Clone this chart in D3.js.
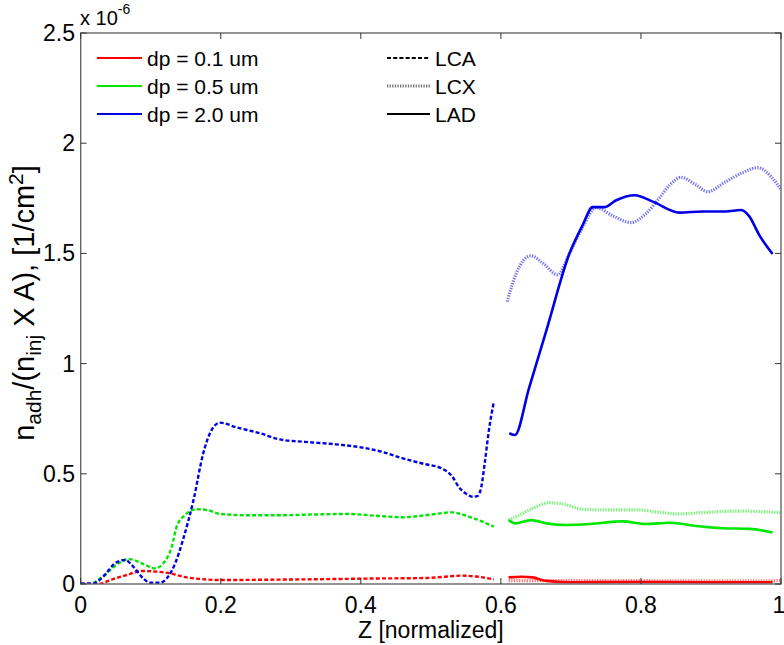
<!DOCTYPE html>
<html><head><meta charset="utf-8">
<script src="https://cdn.jsdelivr.net/npm/d3@7"></script>
<style>body{margin:0;background:#fff}svg{display:block}text{font-family:"Liberation Sans",Arial,sans-serif;fill:#000}</style>
</head><body><svg id="c" width="784" height="645"></svg>
<script>
// values in units of 1e-6 [1/cm^2]
const xTicks = [0, 0.2, 0.4, 0.6, 0.8, 1];
const xTickLabels = ["0", "0.2", "0.4", "0.6", "0.8", "1"];
const yTicks = [0, 0.5, 1, 1.5, 2, 2.5];
const yTickLabels = ["0", "0.5", "1", "1.5", "2", "2.5"];
const sizeLabels = ["dp = 0.1 um", "dp = 0.5 um", "dp = 2.0 um"];
const vesselLabels = ["LCA", "LCX", "LAD"];

const lcaRed = [[0.018,0],[0.03,0.003],[0.042,0.018],[0.066,0.041],[0.087,0.059],[0.108,0.056],[0.127,0.049],[0.146,0.033],[0.17,0.023],[0.199,0.018],[0.284,0.02],[0.35,0.022],[0.42,0.025],[0.49,0.027],[0.52,0.033],[0.545,0.038],[0.565,0.034],[0.59,0.021]];
const lcaGreen = [[0.018,0.003],[0.037,0.048],[0.054,0.094],[0.07,0.113],[0.089,0.091],[0.106,0.071],[0.118,0.094],[0.13,0.169],[0.137,0.26],[0.149,0.313],[0.165,0.339],[0.18,0.336],[0.199,0.318],[0.237,0.312],[0.284,0.312],[0.33,0.315],[0.38,0.318],[0.42,0.31],[0.46,0.303],[0.5,0.315],[0.53,0.325],[0.555,0.305],[0.59,0.26]];
const lcaBlue = [[0,0.003],[0.018,0.003],[0.032,0.033],[0.049,0.094],[0.063,0.109],[0.075,0.079],[0.089,0.026],[0.099,0.006],[0.113,0.006],[0.123,0.026],[0.135,0.094],[0.146,0.2],[0.161,0.38],[0.175,0.593],[0.187,0.699],[0.199,0.732],[0.222,0.711],[0.256,0.684],[0.284,0.656],[0.32,0.645],[0.36,0.635],[0.4,0.62],[0.43,0.6],[0.46,0.57],[0.49,0.545],[0.515,0.525],[0.53,0.49],[0.54,0.44],[0.55,0.41],[0.56,0.396],[0.567,0.4],[0.572,0.44],[0.577,0.55],[0.583,0.7],[0.59,0.827]];

const lcxRed = [[0.611,0.015],[0.7,0.016],[0.8,0.015],[0.9,0.014],[1.0,0.015]];
const lcxGreen = [[0.611,0.29],[0.631,0.32],[0.65,0.35],[0.669,0.369],[0.688,0.363],[0.717,0.339],[0.745,0.336],[0.793,0.336],[0.831,0.324],[0.85,0.318],[0.888,0.324],[0.936,0.331],[1.0,0.324]];
const lcxBlue = [[0.609,1.281],[0.622,1.41],[0.643,1.489],[0.66,1.456],[0.681,1.403],[0.698,1.5],[0.717,1.62],[0.736,1.708],[0.76,1.67],[0.786,1.64],[0.807,1.68],[0.826,1.75],[0.841,1.81],[0.857,1.845],[0.879,1.81],[0.895,1.78],[0.921,1.825],[0.945,1.866],[0.967,1.889],[0.986,1.848],[1.0,1.79]];

const ladRed = [[0.611,0.03],[0.63,0.033],[0.645,0.03],[0.665,0.014],[0.698,0.008],[0.79,0.009],[0.886,0.008],[0.988,0.008]];
const ladGreen = [[0.611,0.29],[0.62,0.275],[0.643,0.29],[0.665,0.275],[0.693,0.268],[0.727,0.272],[0.774,0.284],[0.807,0.272],[0.841,0.278],[0.879,0.263],[0.917,0.253],[0.955,0.25],[0.988,0.234]];
const ladBlue = [[0.612,0.684],[0.62,0.676],[0.64,0.887],[0.665,1.151],[0.698,1.5],[0.717,1.63],[0.731,1.71],[0.748,1.71],[0.764,1.74],[0.791,1.764],[0.817,1.735],[0.855,1.685],[0.888,1.69],[0.921,1.69],[0.943,1.697],[0.955,1.667],[0.969,1.583],[0.988,1.497]];

const colors = ["#ff0000", "#00e600", "#0000e6"];
const L = 80.7, R = 781, T = 33, B = 584;
const svg = d3.select("#c");
const x = d3.scaleLinear().domain([0, 1]).range([L, R]);
const y = d3.scaleLinear().domain([0, 2.5]).range([B, T]);
const FT = 23, FL = 21;

svg.append("defs").append("clipPath").attr("id", "clip")
  .append("rect").attr("x", L).attr("y", T).attr("width", R - L).attr("height", B - T);

const styles = {
  LCX: {dash: "1.3,1.3", width: 3.2, opacity: 0.55},
  LCA: {dash: "4,2.2", width: 2.4, opacity: 1},
  LAD: {dash: null, width: 2.6, opacity: 1}
};
const line = d3.line().x(d => x(d[0])).y(d => y(d[1])).curve(d3.curveMonotoneX);
const g = svg.append("g").attr("clip-path", "url(#clip)");
const groups = [
  ["LCX", [lcxRed, lcxGreen, lcxBlue]],
  ["LCA", [lcaRed, lcaGreen, lcaBlue]],
  ["LAD", [ladRed, ladGreen, ladBlue]]
];
groups.forEach(([name, arr]) => {
  const s = styles[name];
  arr.forEach((data, i) => {
    g.append("path").attr("d", line(data)).attr("fill", "none")
      .attr("stroke", colors[i]).attr("stroke-width", s.width)
      .attr("stroke-opacity", s.opacity)
      .attr("stroke-dasharray", s.dash);
  });
});

// axes box
const ax = svg.append("g");
ax.append("rect").attr("x", L).attr("y", T).attr("width", R - L).attr("height", B - T)
  .attr("fill", "none").attr("stroke", "#666").attr("stroke-width", 1.4);
const tl = 6;
xTicks.forEach((t, i) => {
  ax.append("line").attr("x1", x(t)).attr("x2", x(t)).attr("y1", B).attr("y2", B - tl).attr("stroke", "#333");
  ax.append("line").attr("x1", x(t)).attr("x2", x(t)).attr("y1", T).attr("y2", T + tl).attr("stroke", "#333");
  ax.append("text").attr("x", i === xTicks.length - 1 ? x(t) - 2 : x(t)).attr("y", 613).attr("text-anchor", "middle")
    .attr("font-size", FT).text(xTickLabels[i]);
});
yTicks.forEach((t, i) => {
  ax.append("line").attr("x1", L).attr("x2", L + tl).attr("y1", y(t)).attr("y2", y(t)).attr("stroke", "#333");
  ax.append("line").attr("x1", R).attr("x2", R - tl).attr("y1", y(t)).attr("y2", y(t)).attr("stroke", "#333");
  ax.append("text").attr("x", 75).attr("y", y(t) + 8).attr("text-anchor", "end")
    .attr("font-size", FT).text(yTickLabels[i]);
});

// exponent
const ex = svg.append("text").attr("x", 80).attr("y", 25).attr("font-size", 20);
ex.append("tspan").text("x 10");
ex.append("tspan").attr("dy", -11).attr("font-size", 14).text("-6");

// x label
svg.append("text").attr("x", x(0.5)).attr("y", 638).attr("text-anchor", "middle")
  .attr("font-size", 23).text("Z [normalized]");

// y label
const yl = svg.append("text").attr("transform", "translate(34,303) rotate(-90)")
  .attr("text-anchor", "middle").attr("font-size", 29);
yl.append("tspan").text("n");
yl.append("tspan").attr("dy", 7).attr("font-size", 21).text("adh");
yl.append("tspan").attr("dy", -7).text("/(n");
yl.append("tspan").attr("dy", 7).attr("font-size", 21).text("inj");
yl.append("tspan").attr("dy", -7).text(" X A), [1/cm");
yl.append("tspan").attr("dy", -11).attr("font-size", 21).text("2");
yl.append("tspan").attr("dy", 11).text("]");

// legend 1: sizes
const rows = [58, 86, 114];
sizeLabels.forEach((lab, i) => {
  svg.append("line").attr("x1", 97).attr("x2", 142).attr("y1", rows[i]).attr("y2", rows[i])
    .attr("stroke", colors[i]).attr("stroke-width", 2);
  svg.append("text").attr("x", 147).attr("y", rows[i] + 8).attr("font-size", FL).text(lab);
});
// legend 2: vessels
vesselLabels.forEach((lab, i) => {
  const s = styles[lab];
  svg.append("line").attr("x1", 387).attr("x2", 430).attr("y1", rows[i]).attr("y2", rows[i])
    .attr("stroke", "#000").attr("stroke-width", s.width - 0.4)
    .attr("stroke-opacity", s.opacity).attr("stroke-dasharray", s.dash);
  svg.append("text").attr("x", 435).attr("y", rows[i] + 8).attr("font-size", FL).text(lab);
});
</script></body></html>
